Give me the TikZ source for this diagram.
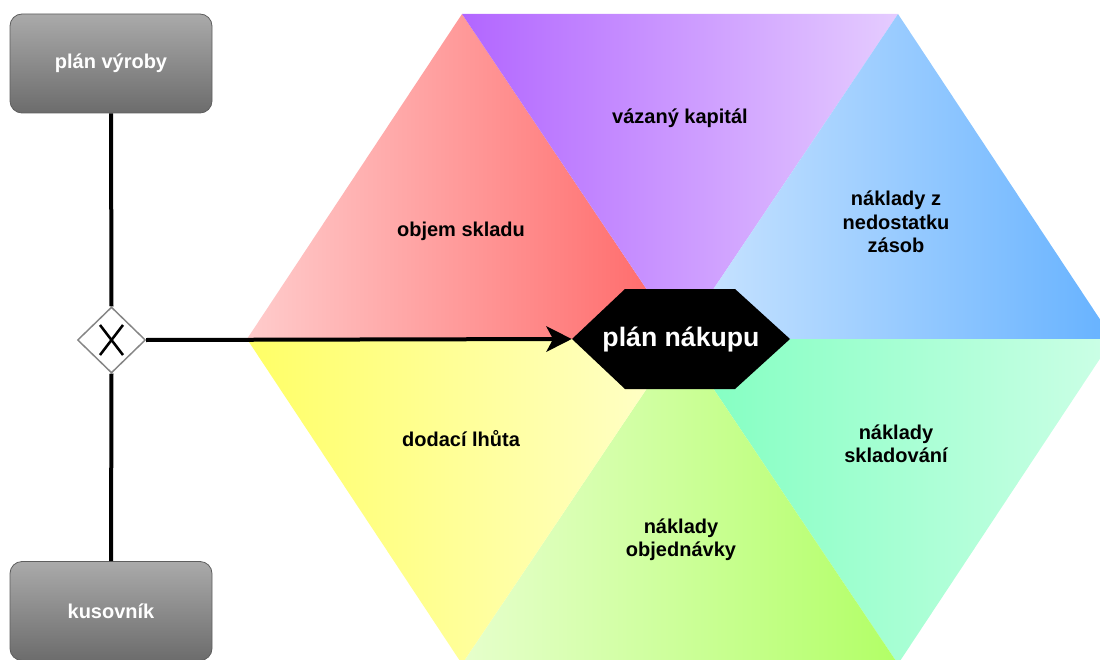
\documentclass[tikz,border=0pt]{standalone}
\usepackage{fontspec}
\setmainfont{Liberation Sans}
\usetikzlibrary{shapes.geometric,arrows.meta}

% wedge colours (left / right end of each horizontal gradient)
\definecolor{redL}{HTML}{FFCCCC}   \definecolor{redR}{HTML}{FF6666}
\definecolor{purL}{HTML}{B266FF}   \definecolor{purR}{HTML}{E5CCFF}
\definecolor{bluL}{HTML}{CCE5FF}   \definecolor{bluR}{HTML}{66B2FF}
\definecolor{teaL}{HTML}{80FFC0}   \definecolor{teaR}{HTML}{CCFFE6}
\definecolor{limL}{HTML}{E6FFCC}   \definecolor{limR}{HTML}{B2FF66}
\definecolor{yelL}{HTML}{FFFF66}   \definecolor{yelR}{HTML}{FFFFCC}
\definecolor{boxtop}{HTML}{AAAAAA}
\definecolor{boxbot}{HTML}{6C6C6C}
\definecolor{boxedge}{HTML}{5E5E5E}
\definecolor{gwedge}{HTML}{858585}

\begin{document}
\begin{tikzpicture}[x=0.75pt,y=-0.75pt,
  inputbox/.style={rounded corners=9pt, minimum width=151.5pt, minimum height=74.25pt,
    top color=boxtop, bottom color=boxbot, draw=boxedge, line width=0.6pt,
    text=white, font=\bfseries\fontsize{15}{18}\selectfont},
  wedgelabel/.style={align=center, text=black, font=\bfseries\fontsize{15}{17.5}\selectfont},
  link/.style={line width=3pt, draw=black},
  gateway/.style={diamond, draw=gwedge, fill=white, line width=1.1pt,
    minimum width=51pt, minimum height=49.5pt, inner sep=0pt}]

\useasboundingbox (0,0) rectangle (1100,660);

% hexagon of six shaded wedges around the purchase plan
\begin{scope}
  \clip (0,0) rectangle (1100,660);
  \coordinate (hc)  at (680,339);
  \coordinate (hl)  at (247,339);
  \coordinate (htl) at (462,14);
  \coordinate (htr) at (898,14);
  \coordinate (hr)  at (1113,339);
  \coordinate (hbr) at (898,664);
  \coordinate (hbl) at (462,664);
  \shade[left color=redL, right color=redR] (hc) -- (hl)  -- (htl) -- cycle;
  \shade[left color=purL, right color=purR] (hc) -- (htl) -- (htr) -- cycle;
  \shade[left color=bluL, right color=bluR] (hc) -- (htr) -- (hr)  -- cycle;
  \shade[left color=teaL, right color=teaR] (hc) -- (hr)  -- (hbr) -- cycle;
  \shade[left color=limL, right color=limR] (hc) -- (hbr) -- (hbl) -- cycle;
  \shade[left color=yelL, right color=yelR] (hc) -- (hbl) -- (hl)  -- cycle;
\end{scope}

% wedge labels
\node[wedgelabel] (kapital)  at (680,118) {vázaný kapitál};
\node[wedgelabel] (objem)    at (461,231) {objem skladu};
\node[wedgelabel] (nedost)   at (896,222) {náklady z\\nedostatku\\zásob};
\node[wedgelabel] (lhuta)    at (461,439) {dodací lhůta};
\node[wedgelabel] (sklad)    at (896,444) {náklady\\skladování};
\node[wedgelabel] (objedn)   at (681,540) {náklady\\objednávky};

% central black hexagon
\fill[black] (572,339) -- (625,289) -- (735,289) -- (790,339) -- (735,389) -- (625,389) -- cycle;
\node[minimum width=163.5pt, minimum height=75pt, inner sep=0pt, text=white,
  font=\bfseries\fontsize{20}{24}\selectfont] (nakup) at (681,339) {plán nákupu};

% inputs on the left
\node[inputbox] (vyroba) at (111,63.5) {plán výroby};
\node[inputbox] (kusov)  at (111,611)  {kusovník};
\node[gateway]  (gw)     at (111.5,340) {};
\draw[line width=1.9pt] (100,325) -- (123,355) (123,325) -- (100,355);

% connectors
\draw[link] (vyroba.south) -- (gw.north);
\draw[link] (gw.south) -- (kusov.north);
\draw[link, -{Stealth[length=19pt, width=19pt, inset=5pt]}] (gw.east) -- (nakup.west);

\end{tikzpicture}
\end{document}
